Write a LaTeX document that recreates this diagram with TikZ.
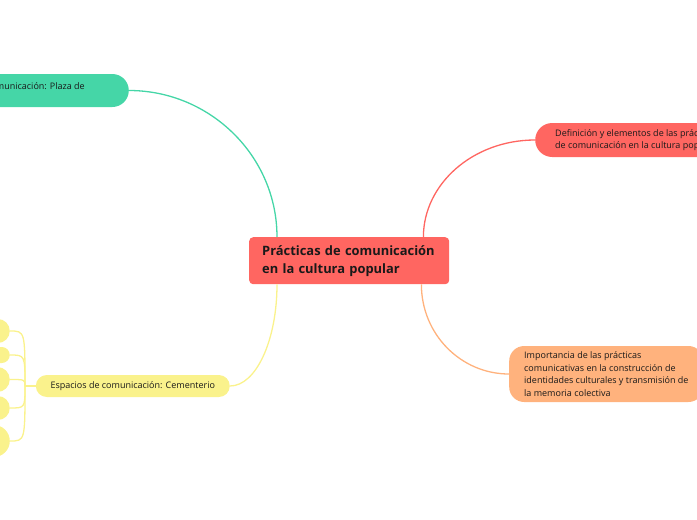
\documentclass[tikz,border=0pt]{standalone}
\usepackage{fontspec}
\setmainfont{Open Sans}
\usetikzlibrary{calc}
\definecolor{mapred}{RGB}{255,102,97}
\definecolor{mapgreen}{RGB}{69,214,167}
\definecolor{maporange}{RGB}{255,178,125}
\definecolor{mapyellow}{RGB}{250,242,140}
\definecolor{maptext}{RGB}{25,25,25}
\begin{document}
\begin{tikzpicture}[x=1pt,y=-1pt,
    topic/.style={draw=none,text=maptext,font=\fontsize{9}{12.5}\selectfont,align=left,inner ysep=0pt},
    link/.style={line width=1.3pt}]
    \useasboundingbox (0,0) rectangle (697,520);
    \clip (0,0) rectangle (697,520);

    % Central topic
    \node[topic,fill=mapred,rounded corners=4pt,anchor=north west,text width=174,minimum height=47,inner xsep=13pt,
          font=\fontsize{12.9}{18}\selectfont\bfseries] (prac) at (249,237)
        {Prácticas de comunicación\\en la cultura popular};

    % Branches
    \node[topic,fill=mapgreen,rounded corners=16.5pt,anchor=east,minimum width=280,minimum height=33] (plaza) at (129,90.5) {};
    \node[topic,anchor=base east,inner sep=0pt] (plazatxt) at (85,89) {Espacios de comunicación: Plaza de};
    \node[topic,fill=mapred,rounded corners=17pt,anchor=west,minimum height=34,inner xsep=20pt] (def) at (535,140)
        {Definición y elementos de las prácticas\\de comunicación en la cultura popular};
    \node[topic,fill=maporange,rounded corners=15pt,anchor=west,minimum height=56,inner xsep=15pt] (imp) at (509,374)
        {Importancia de las prácticas\\comunicativas en la construcción de\\identidades culturales y transmisión de\\la memoria colectiva};
    \node[topic,fill=mapyellow,rounded corners=11pt,anchor=east,minimum width=194,minimum height=22,align=center] (esp) at (230,386)
        {Espacios de comunicación: Cementerio};

    % Connectors
    \draw[link,mapgreen] (plaza.east) .. controls +(81,0) and +(0,-81) .. ($(prac.north west)+(28,0)$);
    \draw[link,mapred] ($(prac.north east)+(-26,0)$) .. controls +(0,-53) and +(-62,0) .. (def.west);
    \draw[link,maporange] ($(prac.south east)+(-28,0)$) .. controls +(0,50) and +(-48,0) .. (imp.west);
    \draw[link,mapyellow] ($(prac.south west)+(28,0)$) .. controls +(0,56) and +(26,0) .. (esp.east);

    % Sub-topics of the cemetery
    \coordinate (jn) at (25,386);
    \foreach \name/\y/\h in {leaf1/331/24,leaf2/355/16,leaf3/379.5/25,leaf4/408/24,leaf5/441/32}
        \node[topic,fill=mapyellow,rounded corners=\h/2,anchor=east,minimum width=40,minimum height=\h] (\name) at (10,\y) {};
    \draw[link,mapyellow] (esp.west) -- (jn);
    \foreach \name in {leaf1,leaf2,leaf3,leaf4,leaf5}
        \draw[link,mapyellow] (jn) .. controls (jn |- \name.east) .. (\name.east);
\end{tikzpicture}
\end{document}
